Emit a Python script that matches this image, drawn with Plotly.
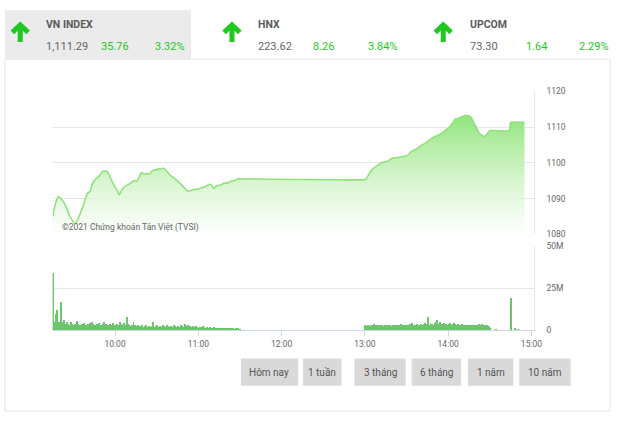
import plotly.graph_objects as go
import pandas as pd

DAY = "2021-01-04 "

# ---------------- data ----------------
price_times = ["09:15","09:17","09:19","09:21","09:23","09:25","09:27","09:29","09:31","09:33",
               "09:35","09:37","09:40","09:42","09:44","09:46","09:49","09:51","09:53","09:55",
               "09:57","10:00","10:02","10:03","10:05","10:07","10:10","10:13","10:16","10:19",
               "10:21","10:23","10:25","10:27","10:31","10:35","10:37","10:40","10:43","10:47",
               "10:50","10:52","10:55","10:57","11:00","11:02","11:04","11:06","11:08","11:10",
               "11:11","11:13","11:14","11:16","11:18","11:21","11:24","11:26","11:28","11:30",
               "13:00","13:01","13:03","13:05","13:07","13:10","13:12","13:15","13:17","13:19",
               "13:22","13:26","13:29","13:31","13:33","13:34","13:37","13:40","13:44","13:47",
               "13:51","13:54","13:57","14:00","14:03","14:05","14:07","14:10","14:13","14:16",
               "14:18","14:20","14:22","14:24","14:26","14:27","14:29","14:30","14:44","14:45",
               "14:55"]
price_values = [1085.0,1088.5,1090.5,1090.0,1089.0,1087.5,1085.5,1084.0,1083.0,1084.0,
                1085.9,1088.0,1091.4,1092.0,1094.5,1095.5,1096.5,1097.6,1097.7,1097.3,
                1095.5,1093.2,1092.0,1091.0,1092.5,1093.4,1094.0,1094.9,1095.0,1097.3,
                1096.9,1097.0,1096.9,1097.8,1098.2,1098.5,1097.8,1096.4,1095.6,1094.2,
                1093.0,1092.1,1092.3,1092.5,1092.7,1093.0,1093.2,1093.6,1094.0,1093.6,
                1092.8,1093.5,1093.7,1093.7,1094.2,1094.4,1094.9,1095.0,1095.5,1095.5,
                1095.3,1095.5,1096.9,1098.0,1098.7,1099.5,1100.1,1100.2,1100.6,1101.2,
                1101.4,1101.6,1101.9,1102.2,1103.0,1103.3,1103.8,1104.7,1105.6,1106.5,
                1107.4,1107.9,1108.8,1109.7,1111.0,1112.2,1112.3,1112.9,1113.3,1112.9,
                1111.6,1110.1,1108.5,1107.8,1107.4,1107.6,1108.5,1109.0,1109.0,1111.3,
                1111.3]

# volume per minute, millions
vol_am = [34,5,10,12,5,4,17,5,6,4,
          5,4,3.5,5,4,3,4,5.5,4,3.5,
          3,4,4.5,3.5,3,4,3.5,4.5,5,4,
          3.5,3,4,4.5,3,3.5,4,5,4,3,
          3.5,4,3,4.5,3.5,3,4,3.5,5,4,
          3.5,4.5,3,8,4,3.5,2.5,3,5,3,
          2.5,3,2,2.5,3,2,2.5,3,2,2.5,
          2,2.5,5,2,2.5,3,2,2.5,2,3,
          2.5,2,3,2.5,2,2.5,2,3,2.5,2,
          2.5,2,3,2.5,2,4,2.5,3,2,2.5,
          2,2.5,2,2.5,2,1.8,2.2,2,2.5,2,
          1.8,2,1.5,2,1.8,1.5,2,1.7,1.5,1.8,
          1.5,1.8,1.5,1.3,1.6,1.5,1.4,1.6,1.3,1.5,
          1.4,1.2,1.5,1.3,1.2,1.0]
vol_pm = [3.5,2.5,3,2.5,3.5,3,4,3,3.5,3,
          3.5,3,3.5,2.5,3,3.5,3,3.5,3,2.5,
          3,3.5,3,3,3.5,3,4,3.5,3,3.5,
          3,3.5,4,3,4.5,3.5,3,4,3.5,3,
          4,3.5,4,4.5,4,8,3.5,4.5,4,3.5,
          4.5,5,6.5,4,5,4,3.5,4.5,4,3.5,
          4,4.5,3.5,4,4.5,4,3.5,4,3,3.5,
          4,3.5,3,3.5,3,3.5,3,3,3.5,3,
          3.5,3,4,3.5,4,3.5,3,3.5,3,2.5,
          1.5]
vol_late_times = ["14:34","14:45","14:48","14:50"]
vol_late = [1.0,19,1.5,0.8]

y_ticks = [1080,1090,1100,1110,1120]
vol_ticks = [0,25e6,50e6]
vol_tick_text = ["0","25M","50M"]
hour_labels = ["10:00","11:00","12:00","13:00","14:00","15:00"]

headers = [
    ("VN INDEX","1,111.29","35.76","3.32%"),
    ("HNX","223.62","8.26","3.84%"),
    ("UPCOM","73.30","1.64","2.29%"),
]
buttons = ["Hôm nay","1 tuần","3 tháng","6 tháng","1 năm","10 năm"]
watermark = "©2021 Chứng khoán Tân Việt (TVSI)"

# ---------------- build ----------------
W, H = 623, 421
def X(p): return p / W
def Y(p): return 1 - p / H

pt = pd.to_datetime([DAY + t for t in price_times])
am_t = pd.date_range(DAY + "09:15", periods=len(vol_am), freq="min")
pm_t = pd.date_range(DAY + "13:00", periods=len(vol_pm), freq="min")
late_t = pd.to_datetime([DAY + t for t in vol_late_times])
vt = list(am_t) + list(pm_t) + list(late_t)
vv = [v * 1e6 for v in vol_am + vol_pm + vol_late]

FONT = "Roboto, 'Liberation Sans', sans-serif"
GRAY = "#666666"
GREEN = "#1ec81e"

fig = go.Figure()
fig.add_trace(go.Scatter(
    x=pt, y=price_values, mode="lines",
    line=dict(color="#8fe27c", width=1.6, shape="spline", smoothing=0.4),
    fill="tozeroy",
    fillgradient=dict(type="vertical", start=1080, stop=1114,
                      colorscale=[[0, "rgba(255,255,255,0.6)"], [1, "rgba(142,228,120,1)"]]),
    xaxis="x", yaxis="y", hoverinfo="skip", showlegend=False))
fig.add_trace(go.Bar(
    x=vt, y=vv, width=42000,
    marker=dict(color="#6cc46c", line=dict(width=0)),
    xaxis="x2", yaxis="y2", hoverinfo="skip", showlegend=False))

xr = [DAY + "09:15", DAY + "15:01:40"]
dom_x = [X(53.3), X(540.7)]
fig.update_layout(
    width=W, height=H, margin=dict(l=0, r=0, t=0, b=0),
    paper_bgcolor="white", plot_bgcolor="rgba(0,0,0,0)",
    font=dict(family=FONT, color=GRAY),
    bargap=0,
    xaxis=dict(domain=dom_x, range=xr, type="date", showgrid=False, showticklabels=False,
               zeroline=False, anchor="y"),
    yaxis=dict(domain=[Y(235), Y(88.3)], range=[1080, 1120], side="right", anchor="x",
               tickvals=y_ticks, gridcolor="#e6e6e6", gridwidth=1, zeroline=False,
               showline=True, linecolor="#e3e6ee", linewidth=1, ticks="",
               ticklabelstandoff=10, tickfont=dict(size=8.5, color=GRAY)),
    xaxis2=dict(domain=dom_x, range=xr, type="date", showgrid=False, anchor="y2",
                tickvals=[DAY + h for h in hour_labels], ticktext=hour_labels,
                ticks="outside", ticklen=5, tickcolor="#ccd6eb",
                showline=True, linecolor="#ccd6eb", linewidth=1,
                tickfont=dict(size=8.5, color=GRAY), zeroline=False),
    yaxis2=dict(domain=[Y(333.3), Y(246.7)], range=[0, 50e6], side="right", anchor="x2",
                tickvals=vol_ticks, ticktext=vol_tick_text, gridcolor="#e6e6e6",
                zeroline=False, showline=True, linecolor="#e3e6ee", ticks="",
                ticklabelstandoff=10, tickfont=dict(size=8.5, color=GRAY)),
)

shapes = []
annots = []
# panel border
shapes.append(dict(type="rect", xref="paper", yref="paper", x0=X(5), x1=X(618), y0=Y(416), y1=Y(55.5),
                   line=dict(color="#e6e6e6", width=1), fillcolor="rgba(0,0,0,0)", layer="below"))
# VN INDEX tab background
shapes.append(dict(type="rect", xref="paper", yref="paper", x0=X(5), x1=X(193.5), y0=Y(55.5), y1=Y(5),
                   line=dict(width=0), fillcolor="#ebebeb", layer="below"))

arrow_cx = [20.5, 235, 449]
text_x = [(45, 45, 100, 155), (259, 259, 315, 371), (474, 474, 531, 585)]
for cx, (name, val, chg, pct), (tx, vx, cxx, px_) in zip(arrow_cx, headers, text_x):
    top, bot = 19, 38
    shapes.append(dict(type="path", xref="paper", yref="paper",
                       path=f"M {X(cx-8)},{Y(top+9)} L {X(cx)},{Y(top+1.5)} L {X(cx+8)},{Y(top+9)} "
                            f"M {X(cx)},{Y(top+2)} L {X(cx)},{Y(bot)}",
                       line=dict(color=GREEN, width=5)))
    annots.append(dict(x=X(tx), y=Y(20), xref="paper", yref="paper", text=f"<b>{name}</b>",
                       showarrow=False, xanchor="left", yanchor="middle",
                       font=dict(size=10.5, color="#5a5a5a", family=FONT)))
    annots.append(dict(x=X(vx), y=Y(42.5), xref="paper", yref="paper", text=val,
                       showarrow=False, xanchor="left", yanchor="middle",
                       font=dict(size=11, color="#666666", family=FONT)))
    annots.append(dict(x=X(cxx), y=Y(42.5), xref="paper", yref="paper", text=chg,
                       showarrow=False, xanchor="left", yanchor="middle",
                       font=dict(size=11, color=GREEN, family=FONT)))
    annots.append(dict(x=X(px_), y=Y(42.5), xref="paper", yref="paper", text=pct,
                       showarrow=False, xanchor="left", yanchor="middle",
                       font=dict(size=11, color=GREEN, family=FONT)))

# buttons
btn_x = [(244, 302), (307, 346), (359, 411), (417, 467), (474, 520), (526, 578)]
for label, (x0, x1) in zip(buttons, btn_x):
    shapes.append(dict(type="rect", xref="paper", yref="paper", x0=X(x0), x1=X(x1), y0=Y(390), y1=Y(362),
                       line=dict(width=0), fillcolor="#d9d9d9"))
    annots.append(dict(x=X((x0 + x1) / 2), y=Y(376), xref="paper", yref="paper", text=label,
                       showarrow=False, xanchor="center", yanchor="middle",
                       font=dict(size=10, color="#555555", family=FONT)))

annots.append(dict(x=X(61), y=Y(227.5), xref="paper", yref="paper", text=watermark,
                   showarrow=False, xanchor="left", yanchor="middle",
                   font=dict(size=8.5, color="#666666", family=FONT)))

fig.update_layout(shapes=shapes, annotations=annots)
fig.write_html("out.html", config={"displayModeBar": False},
               post_script="document.body.style.margin='0';document.body.style.overflow='hidden';")
